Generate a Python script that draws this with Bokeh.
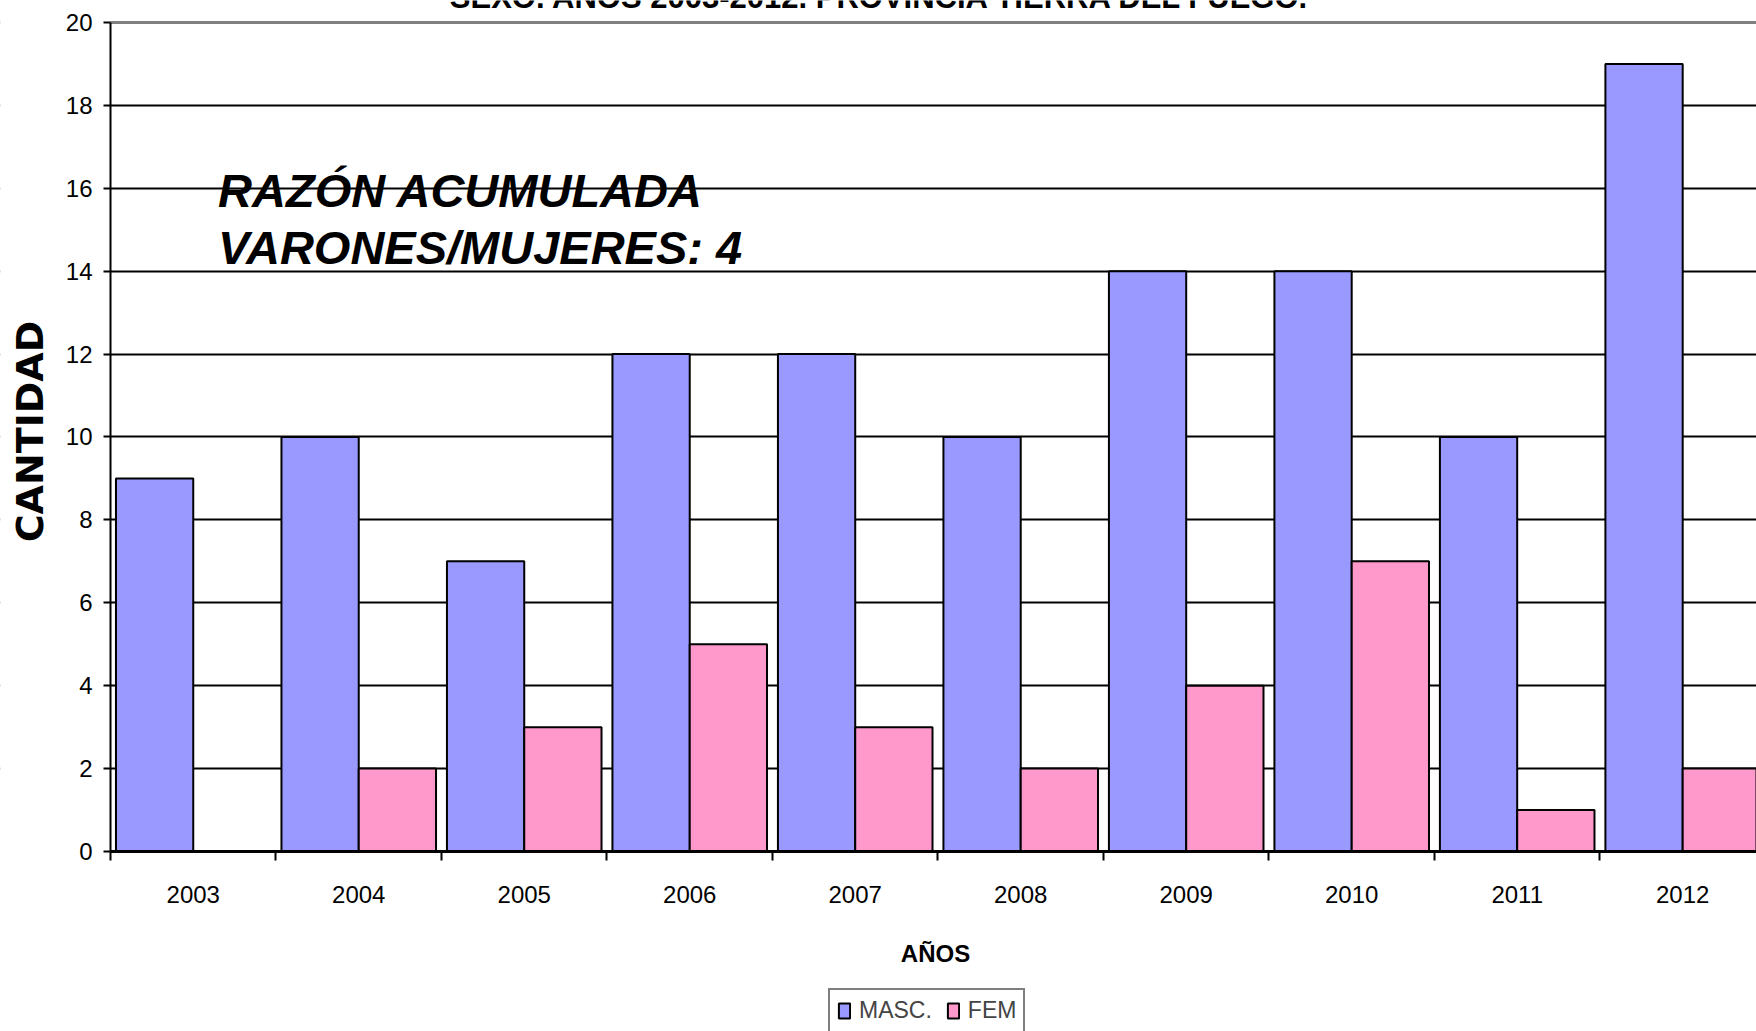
import numpy as np
from bokeh.plotting import figure
from bokeh.models import (Range1d, FixedTicker, Label, Legend, LegendItem, Grid,
                          BoxAnnotation, ColumnDataSource)
from bokeh.transform import dodge
from bokeh.embed import file_html
from bokeh.resources import INLINE

# ---- data ----
years = ["2003", "2004", "2005", "2006", "2007", "2008", "2009", "2010", "2011", "2012"]
masc = [9, 10, 7, 12, 12, 10, 14, 14, 10, 19]
fem = [0, 2, 3, 5, 3, 2, 4, 7, 1, 2]
y_ticks = [0, 2, 4, 6, 8, 10, 12, 14, 16, 18, 20]
series_names = ["MASC.", "FEM"]
colors = ["#9999FF", "#FF99CC"]
title_text = "SEXO. AÑOS 2003-2012. PROVINCIA TIERRA DEL FUEGO."
note_lines = ["RAZÓN ACUMULADA", "VARONES/MUJERES: 4"]
x_label = "AÑOS"
y_label = "CANTIDAD"

SANS = "Liberation Sans"
W, H = 1756, 1031

idx = list(range(len(years)))
src = ColumnDataSource(dict(x=idx, masc=masc, fem=fem))

# the frame fills the whole canvas; axes are pinned at x=-0.5 and y=0
X_START = -0.5
X_END = 9.446
p = figure(width=W, height=H,
           x_range=Range1d(-1.1647, X_END), y_range=Range1d(-4.343, 20.531),
           output_backend="svg", toolbar_location=None,
           min_border_left=0, min_border_right=0,
           min_border_top=0, min_border_bottom=0)
p.outline_line_color = None
p.background_fill_color = "white"
p.border_fill_color = "white"

# grid
p.xgrid.visible = False
p.ygrid.ticker = FixedTicker(ticks=y_ticks[1:-1])
p.ygrid.grid_line_color = "black"
p.ygrid.grid_line_width = 2
p.add_layout(Grid(dimension=1, ticker=FixedTicker(ticks=[y_ticks[-1]]),
                  grid_line_color="#808080", grid_line_width=3))
# keep the grid lines out of the tick-label margin left of the axis
p.add_layout(BoxAnnotation(left=-5, right=X_START, bottom=-10, top=30,
                           fill_color="white", fill_alpha=1.0,
                           line_color=None, level="underlay"))

bw = 0.467
r1 = p.vbar(x=dodge("x", -bw / 2, range=p.x_range), top="masc", width=bw, bottom=0,
            source=src, fill_color=colors[0], line_color="black", line_width=2)
r2 = p.vbar(x=dodge("x", bw / 2, range=p.x_range), top="fem", width=bw, bottom=0,
            source=src, fill_color=colors[1], line_color="black", line_width=2)

# x axis
xa = p.xaxis[0]
xa.fixed_location = 0
xa.bounds = (X_START, X_END)
xa.ticker = FixedTicker(ticks=idx, minor_ticks=[i - 0.5 for i in range(len(years) + 1)])
xa.major_label_overrides = {i: y for i, y in zip(idx, years)}
xa.major_tick_out = 0
xa.major_tick_in = 0
xa.minor_tick_out = 9
xa.minor_tick_in = 0
xa.minor_tick_line_color = "black"
xa.minor_tick_line_width = 2
xa.axis_line_color = "black"
xa.axis_line_width = 3
xa.major_label_standoff = 26
xa.major_label_text_font = SANS
xa.major_label_text_font_size = "24px"
xa.major_label_text_color = "black"

# y axis
ya = p.yaxis[0]
ya.fixed_location = X_START
ya.bounds = (0, 20)
ya.ticker = FixedTicker(ticks=y_ticks)
ya.major_tick_out = 7
ya.major_tick_in = 0
ya.major_tick_line_color = "black"
ya.major_tick_line_width = 2
ya.axis_line_color = "black"
ya.axis_line_width = 2
ya.major_label_standoff = 11
ya.major_label_text_font = SANS
ya.major_label_text_font_size = "24px"
ya.major_label_text_color = "black"

# annotation text
p.add_layout(Label(x=0.15, y=15.94, text=note_lines[0], text_font=SANS,
                   text_font_style="bold italic", text_font_size="47px",
                   text_color="black", text_baseline="alphabetic"))
p.add_layout(Label(x=0.15, y=14.56, text=note_lines[1], text_font=SANS,
                   text_font_style="bold italic", text_font_size="47px",
                   text_color="black", text_baseline="alphabetic"))

# axis titles
p.add_layout(Label(x=29, y=600, x_units="screen", y_units="screen", text=y_label,
                   angle=np.pi / 2, text_align="center", text_baseline="middle",
                   text_font="DejaVu Sans", text_font_style="bold",
                   text_font_size="38px", text_color="black"))
p.add_layout(Label(x=935, y=78, x_units="screen", y_units="screen", text=x_label,
                   text_align="center", text_baseline="middle",
                   text_font=SANS, text_font_style="bold",
                   text_font_size="24px", text_color="black"))

# title (cut off at the top as in the reference)
p.add_layout(Label(x=880, y=1034, x_units="screen", y_units="screen", text=title_text,
                   text_align="center", text_baseline="alphabetic",
                   text_font=SANS, text_font_style="bold",
                   text_font_size="31px", text_color="black"))

legend = Legend(items=[LegendItem(label=series_names[0], renderers=[r1]),
                       LegendItem(label=series_names[1], renderers=[r2])],
                orientation="horizontal", location=(828, -2),
                padding=7, spacing=14, label_standoff=8,
                glyph_width=14, glyph_height=19,
                label_text_font=SANS, label_text_font_size="23px",
                border_line_color="black", border_line_width=2,
                background_fill_color="white", background_fill_alpha=1.0,
                margin=0)
p.add_layout(legend)

open("out.html", "w").write(file_html(p, INLINE))
